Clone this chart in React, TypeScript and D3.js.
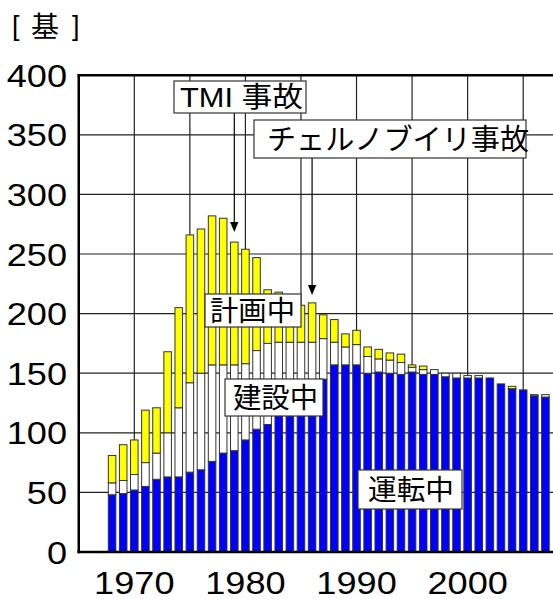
import React from "react";
import * as d3 from "d3";

const years = [1968,1969,1970,1971,1972,1973,1974,1975,1976,1977,1978,1979,1980,1981,1982,1983,1984,1985,1986,1987,1988,1989,1990,1991,1992,1993,1994,1995,1996,1997,1998,1999,2000,2001,2002,2003,2004,2005,2006,2007];
const operating = [48,49,52,55,61,63,63,67,69,76,83,85,94,103,107,116,124,132,138,145,157,157,157,150,151,150,149,151,149,149,147,146,146,146,146,141,137,136,131,130];
const construction = [10,11,13,20,22,37,58,75,81,81,74,72,64,66,68,60,52,44,38,34,19,15,17,14,11,11,10,4,4,4,3,4,2,2,0,0,0,0,1,2];
const planned = [23,30,29,44,38,68,84,124,121,125,123,103,96,78,45,42,40,31,33,20,19,11,12,8,8,6,7,2,3,0,0,0,0,0,0,0,2,0,0,0];
const yTicks = [0, 50, 100, 150, 200, 250, 300, 350, 400];
const xLabelYears = [1970, 1980, 1990, 2000];
const vGridYears = [1970, 1975, 1980, 1985, 1990, 1995, 2000, 2005];
const seriesColors = ["#0000FF", "#FFFFFF", "#FFFF00"];

const W = 553, H = 599;
const LAT = "'Liberation Sans', Arial, sans-serif";
const JP = "'Noto Sans CJK JP', sans-serif";

export default function App() {
  const x = d3.scaleLinear().domain([1965, 2010]).range([78.75, 578.75]);
  const y = d3.scaleLinear().domain([0, 400]).range([552, 75.2]);
  const step = x(1966) - x(1965);
  const bw = step * 0.68;

  const stack = d3.stack<number>().keys(["o", "c", "p"]).value((i, k) =>
    k === "o" ? operating[i] : k === "c" ? construction[i] : planned[i]
  )(years.map((_, i) => i));

  const boxes = [
    { text: "TMI 事故", x0: 174, x1: 306, y0: 81, y1: 113, fs: 28, tx: 180, tl: 123 },
    { text: "チェルノブイリ事故", x0: 254, x1: 526, y0: 120, y1: 158, fs: 29, tx: 267, tl: 262 },
    { text: "計画中", x0: 205, x1: 301, y0: 294, y1: 327, fs: 28, tx: 210, tl: 85 },
    { text: "建設中", x0: 225, x1: 323, y0: 379, y1: 416, fs: 28, tx: 233, tl: 85 },
    { text: "運転中", x0: 358, x1: 462, y0: 470, y1: 509, fs: 28, tx: 368, tl: 86 },
  ];

  const arrows = [
    { year: 1979, y0: 113, y1: 232 },
    { year: 1986, y0: 158, y1: 295 },
  ];

  return (
    <svg width={W} height={H} style={{ position: "absolute", left: 0, top: 0, background: "#fff" }}>
      {/* unit label */}
      <text x={12} y={35} fontFamily={LAT} fontSize={27} fill="#000">[</text>
      <text x={31} y={37} fontFamily={JP} fontSize={28} fill="#000">基</text>
      <text x={72} y={35} fontFamily={LAT} fontSize={27} fill="#000">]</text>

      {/* grid */}
      {yTicks.filter(t => t > 0 && t < 400).map(t => (
        <line key={"h" + t} x1={78.75} x2={W} y1={y(t)} y2={y(t)} stroke="#222" strokeWidth={1.2} />
      ))}
      {vGridYears.map(yr => (
        <line key={"v" + yr} x1={x(yr)} x2={x(yr)} y1={y(400)} y2={y(0)} stroke="#222" strokeWidth={1.2} />
      ))}

      {/* bars */}
      {stack.map((layer, li) => (
        <g key={li}>
          {layer.map((d, i) => {
            const h = y(d[0]) - y(d[1]);
            if (h <= 0) return null;
            return (
              <rect key={i} x={x(years[i]) - bw / 2} y={y(d[1])} width={bw} height={h}
                fill={seriesColors[li]} stroke="#333" strokeWidth={1} />
            );
          })}
        </g>
      ))}

      {/* axes */}
      <line x1={78.75} x2={78.75} y1={y(400) - 1.2} y2={y(0) + 1.2} stroke="#000" strokeWidth={2.5} />
      <line x1={77.5} x2={W} y1={y(0)} y2={y(0)} stroke="#000" strokeWidth={2.5} />
      <line x1={77.5} x2={W} y1={y(400)} y2={y(400)} stroke="#000" strokeWidth={2.5} />

      {/* y tick labels */}
      {yTicks.map(t => (
        <g key={"yl" + t} transform={`translate(67,${y(t) + 11.5}) scale(1.13,1)`}>
          <text x={0} y={0} textAnchor="end" fontFamily={LAT} fontSize={32} fill="#000">{t}</text>
        </g>
      ))}

      {/* x labels */}
      {xLabelYears.map(yr => (
        <g key={"xl" + yr} transform={`translate(${x(yr)},593.5) scale(1.13,1)`}>
          <text x={0} y={0} textAnchor="middle" fontFamily={LAT} fontSize={32} fill="#000">{yr}</text>
        </g>
      ))}

      {/* arrows */}
      {arrows.map(a => (
        <g key={"a" + a.year}>
          <line x1={x(a.year)} x2={x(a.year)} y1={a.y0} y2={a.y1 - 8} stroke="#000" strokeWidth={1.2} />
          <path d={`M${x(a.year) - 4.2},${a.y1 - 10} L${x(a.year) + 4.2},${a.y1 - 10} L${x(a.year)},${a.y1} Z`} fill="#000" />
        </g>
      ))}

      {/* label boxes */}
      {boxes.map(b => {
        const cy = (b.y0 + b.y1) / 2;
        return (
          <g key={b.text}>
            <rect x={b.x0} y={b.y0} width={b.x1 - b.x0} height={b.y1 - b.y0} fill="#fff" stroke="#333" strokeWidth={1.2} />
            <text x={b.tx} y={cy + b.fs * 0.37} textLength={b.tl} lengthAdjust="spacingAndGlyphs"
              fontFamily={`'Liberation Sans', ${JP}`} fontSize={b.fs} fill="#000">{b.text}</text>
          </g>
        );
      })}
    </svg>
  );
}
